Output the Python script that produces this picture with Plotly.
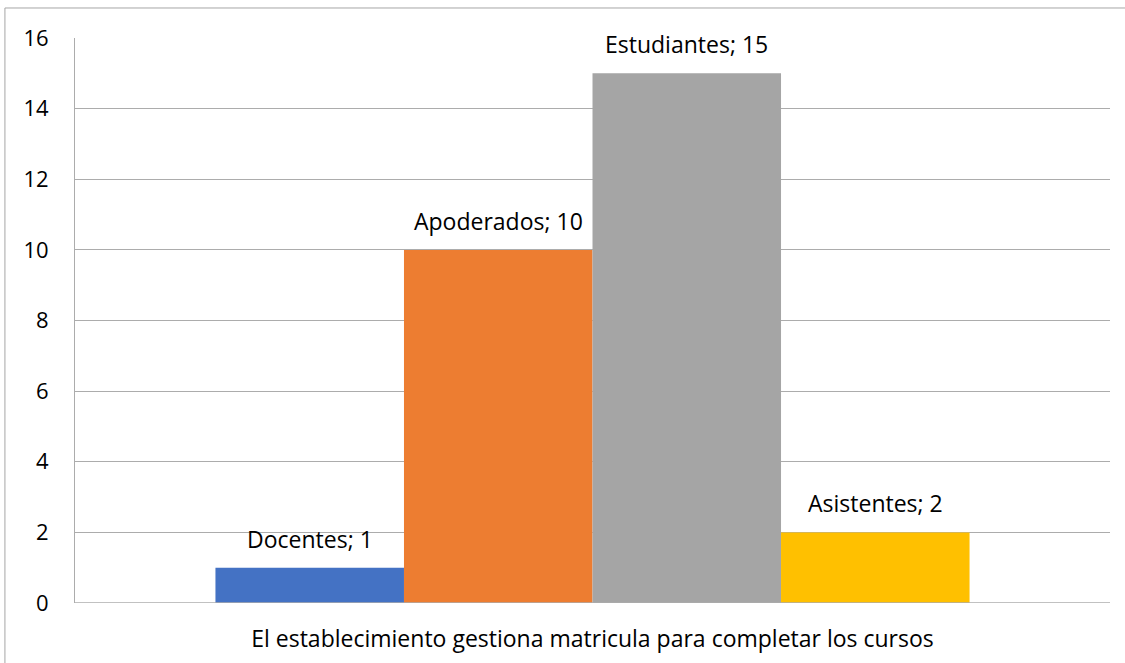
import plotly.graph_objects as go

# Survey counts by respondent group
groups = ["Docentes", "Apoderados", "Estudiantes", "Asistentes"]
counts = [1, 10, 15, 2]
colors = ["#4472C4", "#ED7D31", "#A5A5A5", "#FFC000"]
category = "El establecimiento gestiona matricula para completar los cursos"
y_ticks = [0, 2, 4, 6, 8, 10, 12, 14, 16]

# bars sit side by side around the single category at x=0
positions = [i - (len(groups) - 1) / 2 for i in range(len(groups))]

FONT = "Open Sans, sans-serif"
FSIZE = 23

fig = go.Figure()
for g, c, col, x in zip(groups, counts, colors, positions):
    fig.add_trace(go.Bar(
        x=[x], y=[c], width=1.0, name=g,
        marker=dict(color=col, line=dict(width=0)),
        showlegend=False, hoverinfo="skip",
    ))
    fig.add_annotation(
        x=x, y=c, text=f"{g}; {c}", showarrow=False,
        yanchor="bottom", yshift=11,
        font=dict(family=FONT, size=FSIZE, color="#000000"),
    )

fig.update_layout(
    width=1125, height=663,
    margin=dict(l=75, r=15, t=38, b=60, autoexpand=False),
    paper_bgcolor="white", plot_bgcolor="white",
    xaxis=dict(
        range=[-2.745, 2.745], tickvals=[0], ticktext=[category],
        showgrid=False, zeroline=False, showline=False, ticks="",
        ticklabelstandoff=20, automargin=False,
        tickfont=dict(family=FONT, size=FSIZE, color="#000000"),
        fixedrange=True,
    ),
    yaxis=dict(
        range=[0, 16], tickvals=y_ticks,
        showgrid=True, gridcolor="#acacac", gridwidth=1,
        zeroline=False, showline=True, linecolor="#acacac", linewidth=1,
        ticks="", ticklabelstandoff=21, automargin=False,
        tickfont=dict(family=FONT, size=22, color="#000000"),
        fixedrange=True,
    ),
    shapes=[
        # baseline of the value axis
        dict(type="line", xref="paper", yref="y", x0=0, x1=1, y0=0, y1=0,
             line=dict(color="#acacac", width=1.5)),
        # chart frame
        dict(type="rect", xref="paper", yref="paper",
             x0=-0.0677, x1=1.03, y0=-0.2, y1=1.0531,
             line=dict(color="#a6a6a6", width=1), layer="below"),
    ],
)

fig.write_html("out.html")
